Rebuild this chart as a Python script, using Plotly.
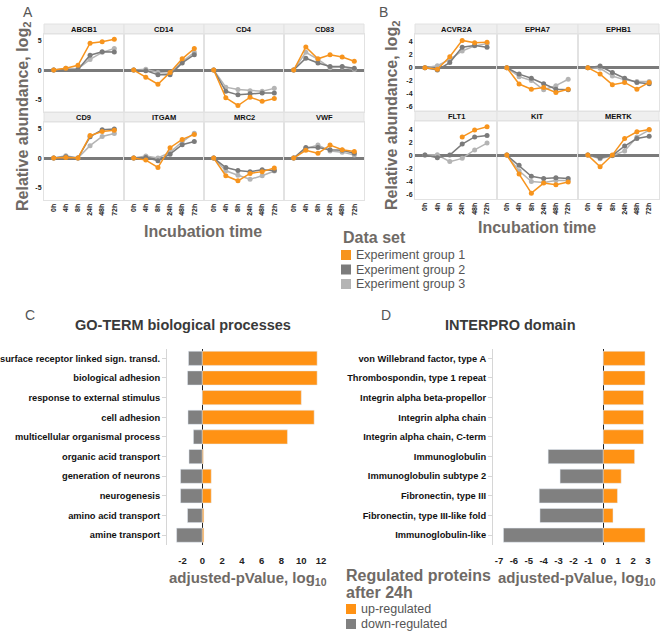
import plotly.graph_objects as go

W, H = 660, 631

times = ["0h", "4h", "8h", "24h", "48h", "72h"]
group_names = ["Experiment group 1", "Experiment group 2", "Experiment group 3"]

genes_A = ["ABCB1", "CD14", "CD4", "CD83", "CD9", "ITGAM", "MRC2", "VWF"]
grp1_A = [
    [0, 0.3, 0.8, 4.55, 4.8, 5.2],
    [0, -1.2, -2.4, -0.4, 1.9, 3.65],
    [0, -4.7, -6.0, -4.6, -5.3, -4.8],
    [0, 3.9, 1.9, 2.6, 2.2, 1.5],
    [0, 0.1, 0, 3.8, 4.5, 4.7],
    [0, -0.35, -1.6, 1.75, 3.15, 4.0],
    [0, -3.0, -3.85, -2.6, -2.3, -1.7],
    [0, 1.3, 0.8, 2.2, 1.4, 1.1],
]
grp2_A = [
    [0, 0.1, 0.1, 2.5, 3.1, 3.05],
    [0, -0.1, -0.8, -0.8, 1.2, 2.6],
    [0, -3.6, -4.2, -4.0, -3.9, -3.9],
    [0, 2.0, 1.2, 0.6, 0.6, 0.3],
    [0, 0.2, 0, 3.6, 4.8, 4.9],
    [0, 0.1, -0.45, 0.65, 2.25, 2.8],
    [0, -1.6, -2.1, -2.3, -2.0, -2.1],
    [0, 1.8, 1.8, 1.4, 1.3, 0.8],
]
grp3_A = [
    [0, 0.3, 0.2, 1.8, 3.0, 3.65],
    [0, 0.15, -0.4, -0.6, 1.4, 3.0],
    [0, -2.9, -3.3, -3.5, -3.6, -3.1],
    [0, 3.0, 1.8, 0.4, 0.5, 0.1],
    [0, 0.4, 0, 2.1, 3.65, 4.15],
    [0, 0.35, 0, 0.95, 2.75, 4.2],
    [0, -2.15, -2.9, -3.6, -3.0, -2.2],
    [0, 1.6, 2.2, 1.2, 1.0, 0.5],
]

genes_B = ["ACVR2A", "EPHA7", "EPHB1", "FLT1", "KIT", "MERTK"]
grp1_B = [
    [0, -0.25, 1.7, 4.25, 3.9, 3.95],
    [0, -2.55, -3.35, -3.1, -3.85, -3.35],
    [0, -1.0, -2.65, -2.3, -3.35, -2.3],
    [None, None, None, 2.8, 3.85, 4.35],
    [0, -2.9, -5.85, -4.3, -4.55, -4.15],
    [0, -1.8, 0, 2.55, 3.6, 3.95],
]
grp2_B = [
    [0, -0.35, 0.8, 3.2, 3.45, 3.2],
    [0, -1.0, -1.65, -2.5, -3.35, -3.45],
    [0, 0.25, -0.75, -1.65, -2.3, -2.5],
    [0, -0.4, 0, 1.7, 2.8, 3.0],
    [0, -1.55, -3.25, -3.6, -3.5, -3.6],
    [0, -0.4, -0.05, 1.4, 2.55, 2.9],
]
grp3_B = [
    [0, 0.3, 1.3, 2.6, 3.4, 3.75],
    [0, -1.4, -2.0, -3.45, -2.8, -1.8],
    [0, -0.1, -1.3, -1.9, -2.15, -2.15],
    [0, 0.05, -1.0, -0.5, 0.8, 1.85],
    [0, -2.4, -4.05, -4.2, -3.9, -3.9],
    [0, -0.55, -0.1, 0.65, 2.8, 3.85],
]

go_terms = ["surface receptor linked sign. transd.", "biological adhesion",
            "response to external stimulus", "cell adhesion",
            "multicellular organismal process", "organic acid transport",
            "generation of neurons", "neurogenesis", "amino acid transport",
            "amine transport"]
go_up = [11.6, 11.6, 10.0, 11.3, 8.6, 0.1, 0.9, 0.9, 0.15, 0.15]
go_down = [-1.4, -1.5, 0, -1.45, -0.9, -1.35, -2.2, -2.2, -1.5, -2.6]

ipr_terms = ["von Willebrand factor, type A", "Thrombospondin, type 1 repeat",
             "Integrin alpha beta-propellor", "Integrin alpha chain",
             "Integrin alpha chain, C-term", "Immunoglobulin",
             "Immunoglobulin subtype 2", "Fibronectin, type III",
             "Fibronectin, type III-like fold", "Immunoglobulin-like"]
ipr_up = [2.8, 2.8, 2.7, 2.7, 2.7, 2.1, 1.2, 0.95, 0.65, 2.8]
ipr_down = [0, 0, 0, 0, 0, -3.7, -2.9, -4.3, -4.25, -6.7]

reg_names = ["up-regulated", "down-regulated"]

# ---------------- styling ----------------
FONT = "Liberation Sans, Arial, sans-serif"
C_G1, C_G2, C_G3 = "#f7941d", "#7b7b7b", "#b4b4b4"
C_UP, C_DOWN = "#ff9214", "#808080"
TITLE_GRAY = "#6f6a66"


def px(x):
    return x / W


def py(y):
    return 1 - y / H


fig = go.Figure()
shapes, annotations = [], []
layout_axes = {}


def ax_names(k):
    return ("xaxis" if k == 1 else f"xaxis{k}", "yaxis" if k == 1 else f"yaxis{k}",
            "x" if k == 1 else f"x{k}", "y" if k == 1 else f"y{k}")


def add_facet(k, x0, x1, strip_top, y0, y1, yrange, yticks, show_y, show_x, label, series):
    xa, ya, xr, yr = ax_names(k)
    layout_axes[xa] = dict(domain=[px(x0), px(x1)], anchor=yr, type="category",
                           categoryorder="array", categoryarray=times,
                           range=[-0.8, 5.8], showgrid=False, zeroline=False,
                           showline=True, mirror=True, linecolor="#e2e2e2", linewidth=1,
                           showticklabels=show_x, tickangle=-90, ticks="",
                           tickfont=dict(family=FONT, size=7, color="#222", weight="bold"))
    layout_axes[ya] = dict(domain=[py(y1), py(y0)], anchor=xr, range=yrange,
                           tickvals=yticks, ticktext=[str(t) for t in yticks],
                           showgrid=False, zeroline=True, zerolinecolor="#7a7a7a",
                           zerolinewidth=2.5, showline=True, mirror=True,
                           linecolor="#e2e2e2", linewidth=1,
                           showticklabels=show_y, ticks="",
                           tickfont=dict(family=FONT, size=7, color="#222", weight="bold"))
    shapes.append(dict(type="rect", xref="paper", yref="paper",
                       x0=px(x0), x1=px(x1), y0=py(y0), y1=py(strip_top),
                       fillcolor="#efefef", line=dict(color="#e2e2e2", width=1), layer="below"))
    annotations.append(dict(text=label, x=px((x0 + x1) / 2), y=py((strip_top + y0) / 2),
                            xref="paper", yref="paper", showarrow=False,
                            xanchor="center", yanchor="middle",
                            font=dict(family=FONT, size=7.5, color="#111", weight="bold")))
    for vals, col in series:
        fig.add_trace(go.Scatter(x=times, y=vals, mode="lines+markers", xaxis=xr, yaxis=yr,
                                 line=dict(color=col, width=1.5),
                                 marker=dict(color=col, size=5), showlegend=False,
                                 connectgaps=False, hoverinfo="x+y"))


# Panel A facets
colsA = [(44, 124), (124, 204), (204, 284), (284, 364)]
rowsA = [(24, 34, 112), (112, 122, 200)]
k = 1
for i, g in enumerate(genes_A):
    r, c = divmod(i, 4)
    st, t, b = rowsA[r]
    add_facet(k, colsA[c][0], colsA[c][1], st, t, b, [-7.1, 6.1], [-5, 0, 5],
              c == 0, r == 1, g,
              [(grp3_A[i], C_G3), (grp2_A[i], C_G2), (grp1_A[i], C_G1)])
    k += 1

# Panel B facets
colsB = [(415, 497), (497, 578), (578, 659)]
rowsB = [(24, 34, 111), (111, 121, 199)]
for i, g in enumerate(genes_B):
    r, c = divmod(i, 3)
    st, t, b = rowsB[r]
    add_facet(k, colsB[c][0], colsB[c][1], st, t, b, [-6.75, 5.25], [-6, -4, -2, 0, 2, 4],
              c == 0, r == 1, g,
              [(grp3_B[i], C_G3), (grp2_B[i], C_G2), (grp1_B[i], C_G1)])
    k += 1


def add_bar_panel(k, x0, x1, y0, y1, xrange, xticks, terms, up, down):
    xa, ya, xr, yr = ax_names(k)
    layout_axes[xa] = dict(domain=[px(x0), px(x1)], anchor=yr, range=xrange,
                           tickvals=xticks, ticktext=[str(t) for t in xticks],
                           showgrid=False, zeroline=True, zerolinecolor="#222",
                           zerolinewidth=1, showline=False, ticks="outside",
                           ticklen=7, tickcolor="rgba(0,0,0,0)",
                           tickfont=dict(family=FONT, size=9.5, color="#222", weight="bold"))
    layout_axes[ya] = dict(domain=[py(y1), py(y0)], anchor=xr, type="category",
                           categoryorder="array", categoryarray=terms,
                           range=[len(terms) - 0.5, -0.5], showgrid=False,
                           showline=True, linecolor="#d6d6d6", linewidth=1,
                           ticks="outside", ticklen=4, tickcolor="#d6d6d6",
                           tickfont=dict(family=FONT, size=9.3, color="#111", weight="bold"))
    fig.add_trace(go.Bar(y=terms, x=down, orientation="h", marker_color=C_DOWN,
                         width=0.72, xaxis=xr, yaxis=yr, showlegend=False, name=reg_names[1]))
    fig.add_trace(go.Bar(y=terms, x=up, orientation="h", marker_color=C_UP,
                         width=0.72, xaxis=xr, yaxis=yr, showlegend=False, name=reg_names[0]))


add_bar_panel(k, 167, 330, 348.5, 545, [-3.57, 12.9], [-2, 0, 2, 4, 6, 8, 10, 12],
              go_terms, go_up, go_down)
k += 1
add_bar_panel(k, 493, 658, 348.5, 545, [-7.4, 3.67], [-7, -6, -5, -4, -3, -2, -1, 0, 1, 2, 3],
              ipr_terms, ipr_up, ipr_down)


def text(t, x, y, size, color="#333", bold=False, xanchor="center", angle=0):
    annotations.append(dict(text=t, x=px(x), y=py(y), xref="paper", yref="paper",
                            showarrow=False, xanchor=xanchor, yanchor="middle",
                            textangle=angle,
                            font=dict(family=FONT, size=size, color=color,
                                      weight="bold" if bold else "normal")))


# panel letters
text("A", 28, 12, 14, "#555")
text("B", 383, 12, 14, "#555")
text("C", 30, 315, 14, "#555")
text("D", 386, 315, 14, "#555")

# axis titles A/B
text("Relative abundance, log<sub>2</sub>", 23, 117, 16, TITLE_GRAY, True, angle=-90)
text("Relative abundance, log<sub>2</sub>", 392, 116, 16, TITLE_GRAY, True, angle=-90)
text("Incubation time", 203, 231, 16, TITLE_GRAY, True)
text("Incubation time", 537, 228, 16, TITLE_GRAY, True)

# bar panel titles
text("GO-TERM biological processes", 183, 325, 14.5, "#3a3a3a", True)
text("INTERPRO domain", 510, 325, 14.5, "#3a3a3a", True)
text("adjusted-pValue, log<sub>10</sub>", 248, 578, 15, TITLE_GRAY, True)
text("adjusted-pValue, log<sub>10</sub>", 577, 578, 15, TITLE_GRAY, True)

# legend: Data set
text("Data set", 341, 238, 16, TITLE_GRAY, True, xanchor="left")
for i, (nm, col) in enumerate(zip(group_names, [C_G1, C_G2, C_G3])):
    yc = 255 + i * 14.5
    shapes.append(dict(type="rect", xref="paper", yref="paper",
                       x0=px(341), x1=px(351), y0=py(yc + 5), y1=py(yc - 5),
                       fillcolor=col, line=dict(width=0)))
    text(nm, 354, yc, 12.5, "#555", False, xanchor="left")

# legend: regulated proteins
text("Regulated proteins", 344, 575, 16, TITLE_GRAY, True, xanchor="left")
text("after 24h", 344, 592, 16, TITLE_GRAY, True, xanchor="left")
for i, (nm, col) in enumerate(zip(reg_names, [C_UP, C_DOWN])):
    yc = 609 + i * 15
    shapes.append(dict(type="rect", xref="paper", yref="paper",
                       x0=px(346), x1=px(356), y0=py(yc + 5), y1=py(yc - 5),
                       fillcolor=col, line=dict(width=0)))
    text(nm, 359, yc, 12.5, "#555", False, xanchor="left")

fig.update_layout(width=W, height=H, margin=dict(l=0, r=0, t=0, b=0),
                  paper_bgcolor="white", plot_bgcolor="white", barmode="overlay",
                  shapes=shapes, annotations=annotations, showlegend=False,
                  **layout_axes)

fig.write_html("out.html", config={"displayModeBar": False},
               post_script="document.body.style.margin='0px';document.body.style.padding='0px';")
